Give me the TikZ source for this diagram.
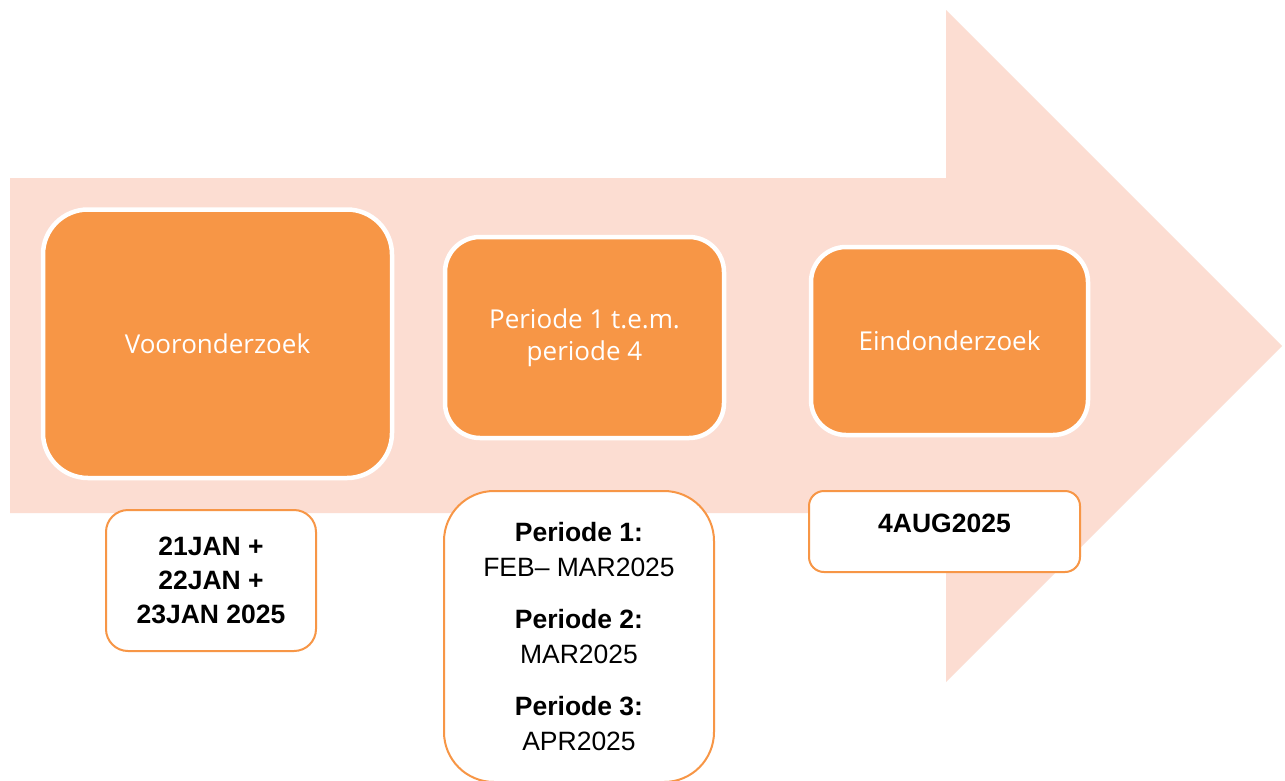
\documentclass[tikz,border=0pt]{standalone}
\usepackage{fontspec}
\setmainfont{Liberation Sans}
\newfontfamily\opensans{Open Sans}
\definecolor{peach}{HTML}{FCDDD2}
\definecolor{accent}{HTML}{F79646}
\tikzset{
  phase/.style={rectangle, rounded corners=#1, fill=accent, draw=white, line width=4.5pt,
    text=white, font=\opensans\fontsize{26}{32}\selectfont, align=center, inner sep=0pt},
  datebox/.style={rectangle, rounded corners=#1, fill=white, draw=accent, line width=2pt,
    text=black, align=center, inner sep=0pt},
}
\begin{document}
\begin{tikzpicture}[x=1pt,y=-1pt]
\useasboundingbox (0,0) rectangle (1285,780);
\clip (0,0) rectangle (1285,780);
\fill[white] (0,0) rectangle (1285,780);
% big arrow
\fill[peach] (10,178) -- (946,178) -- (946,10) -- (1282,346) -- (946,682) -- (946,513) -- (10,513) -- cycle;
% phases
\node[phase=45pt, minimum width=349pt, minimum height=268.5pt] (voor) at (217.5,343.75) {Vooronderzoek};
\node[phase=35pt, minimum width=279pt, minimum height=201pt] (per) at (584.5,337.5) {Periode 1 t.e.m.\\periode 4};
\node[phase=35pt, minimum width=277pt, minimum height=188pt] (eind) at (949.5,341) {Eindonderzoek};
% dates
\node[datebox=22pt, minimum width=210pt, minimum height=141pt,
  font=\bfseries\fontsize{26.5}{34}\selectfont] (d1) at (211,580.5) {21JAN +\\22JAN +\\23JAN 2025};
\node[datebox=50pt, minimum width=270pt, minimum height=291pt,
  font=\fontsize{26.5}{35}\selectfont] (d2) at (579,636.5)
  {\textbf{Periode 1:}\\FEB– MAR2025\\[17pt]\textbf{Periode 2:}\\MAR2025\\[17pt]\textbf{Periode 3:}\\APR2025};
\node[datebox=15pt, minimum width=271pt, minimum height=81pt,
  font=\bfseries\fontsize{26.5}{34}\selectfont, text height=18pt, text depth=16pt] (d3) at (944.5,531.5) {4AUG2025};
\end{tikzpicture}
\end{document}
